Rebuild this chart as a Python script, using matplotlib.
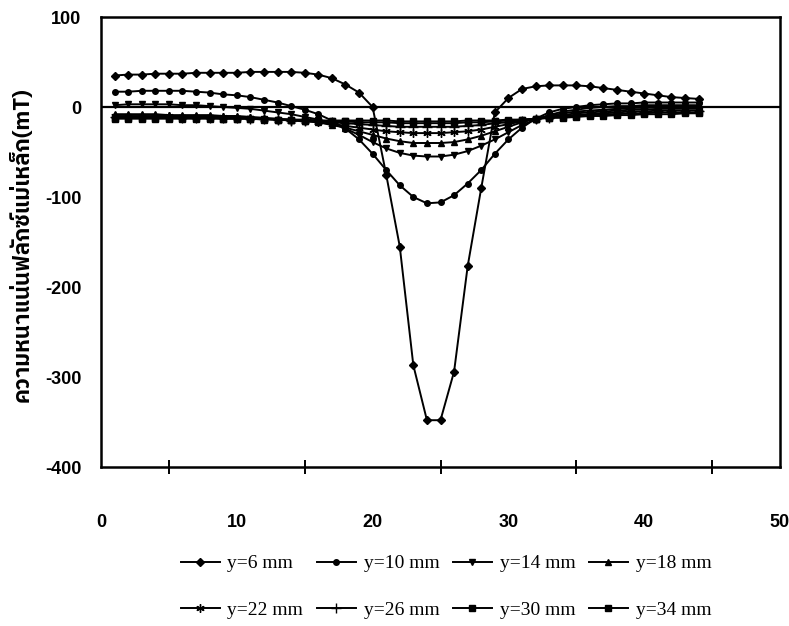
import matplotlib
matplotlib.use("Agg")
import matplotlib.pyplot as plt
from matplotlib import font_manager
from matplotlib.ft2font import FT2Font

# ---------------- data ----------------
x_pos = list(range(1, 45))

series_labels = ["y=6 mm", "y=10 mm", "y=14 mm", "y=18 mm",
                 "y=22 mm", "y=26 mm", "y=30 mm", "y=34 mm"]

y6 = [35, 36, 36, 37, 37, 37, 38, 38, 38, 38, 39, 39, 39, 39, 38, 36, 32, 25, 16, 0,
      -75, -155, -287, -348, -348, -294, -177, -90, -6, 10, 20, 23, 24, 24, 24, 23, 21,
      19, 17, 15, 13, 11, 10, 9]
y10 = [17, 17, 18, 18, 18, 18, 17, 16, 14, 13, 11, 8, 5, 1, -3, -8, -15, -24, -36, -52,
       -70, -87, -100, -107, -106, -98, -85, -70, -52, -36, -23, -13, -6, -2, 0, 2, 3,
       4, 4, 5, 5, 5, 5, 5]
y14 = [2, 3, 3, 3, 3, 2, 2, 1, 0, -1, -2, -4, -6, -8, -11, -14, -18, -24, -31, -39,
       -46, -51, -54, -55, -55, -53, -49, -43, -36, -28, -20, -14, -9, -5, -3, -1, 0,
       1, 1, 2, 2, 2, 2, 2]
y18 = [-8, -8, -8, -8, -9, -9, -9, -9, -10, -10, -11, -12, -13, -14, -15, -17, -20, -23,
       -27, -31, -35, -38, -40, -40, -40, -39, -36, -32, -27, -22, -17, -13, -10, -7,
       -5, -4, -3, -2, -1, -1, 0, 0, 0, 0]
y22 = [-10, -10, -10, -10, -10, -11, -11, -11, -11, -12, -12, -13, -14, -15, -16, -17,
       -19, -21, -23, -25, -27, -28, -29, -29, -29, -28, -27, -25, -22, -19, -16, -13,
       -11, -9, -7, -6, -5, -4, -3, -3, -2, -2, -2, -2]
y26 = [-11, -11, -11, -11, -11, -12, -12, -12, -12, -12, -13, -13, -14, -15, -15, -16,
       -17, -18, -19, -20, -21, -22, -22, -22, -22, -22, -21, -20, -18, -17, -15, -13,
       -12, -10, -9, -8, -7, -6, -5, -5, -4, -4, -4, -4]
y30 = [-12, -12, -12, -12, -12, -12, -12, -12, -13, -13, -13, -13, -14, -14, -15, -15,
       -16, -16, -17, -17, -17, -18, -18, -18, -18, -18, -17, -17, -16, -15, -14, -13,
       -12, -11, -10, -9, -8, -8, -7, -7, -6, -6, -6, -6]
y34 = [-13, -13, -13, -13, -13, -13, -13, -13, -13, -13, -13, -14, -14, -14, -14, -15,
       -15, -15, -15, -15, -15, -16, -16, -16, -16, -16, -15, -15, -15, -14, -14, -13,
       -12, -12, -11, -10, -10, -9, -9, -8, -8, -8, -7, -7]

x_tick_values = [0, 10, 20, 30, 40, 50]
y_tick_values = [100, 0, -100, -200, -300, -400]
y_axis_title = "ความหนาแน่นฟลักซ์แม่เหล็ก(mT)"

# ---------------- fonts ----------------
def find_thai_font():
    cands = []
    for f in font_manager.fontManager.ttflist:
        try:
            cm = FT2Font(f.fname).get_charmap()
        except Exception:
            continue
        if 0x0E04 in cm and 0x0E2B in cm:
            cands.append(f)
    if not cands:
        return None
    cands.sort(key=lambda f: (0 if "Thai" in f.name else 1, 0 if f.weight in (700, "bold") else 1))
    return cands[0].name

thai_font = find_thai_font()
label_family = [thai_font, "DejaVu Sans"] if thai_font else ["DejaVu Sans"]

plt.rcParams["font.family"] = ["Liberation Sans", "DejaVu Sans"]

series_data = [y6, y10, y14, y18, y22, y26, y30, y34]
markers = ["D", "o", "v", "^", (6, 2, 0), "+", "s", "s"]
msizes = [4, 4, 5, 5, 6, 7, 4, 4]

fig = plt.figure(figsize=(7.89, 6.26), dpi=100)
ax = fig.add_axes([101 / 789, 1 - 467 / 626, (780 - 101) / 789, (467 - 17) / 626])

handles = []
for data, lab, m, ms in zip(series_data, series_labels, markers, msizes):
    h, = ax.plot(x_pos, data, color="black", lw=1.4, marker=m, markersize=ms,
                 markeredgewidth=1.0, markerfacecolor="black", markeredgecolor="black",
                 label=lab)
    handles.append(h)

ax.axhline(0, color="black", lw=1.6, zorder=1)

ax.set_xlim(0, 50)
ax.set_ylim(-400, 100)
for s in ax.spines.values():
    s.set_linewidth(1.8)
    s.set_color("black")

ax.set_xticks(x_tick_values)
ax.set_xticklabels([str(v) for v in x_tick_values], fontsize=13, fontweight="bold")
ax.set_xticks(list(range(5, 50, 5)), minor=True)
ax.tick_params(axis="x", which="major", length=0, pad=34)
ax.tick_params(axis="x", which="minor", direction="inout", length=10, width=1.4)

ax.set_yticks(y_tick_values)
ax.set_yticklabels([str(v) for v in y_tick_values], fontsize=13, fontweight="bold")
ax.tick_params(axis="y", which="major", length=0, pad=14)

fig.text(21 / 789, 1 - 245 / 626, y_axis_title, rotation=90, ha="center", va="center",
         fontsize=16, fontweight="bold", family=label_family)

order = [0, 4, 1, 5, 2, 6, 3, 7]
leg = fig.legend([handles[i] for i in order], [series_labels[i] for i in order],
                 loc="center", bbox_to_anchor=(446 / 789, 1 - 587 / 626), ncol=4,
                 frameon=False, handlelength=2.0, handletextpad=0.4,
                 columnspacing=0.7, labelspacing=1.5,
                 prop={"family": ["Liberation Serif", "DejaVu Serif"], "size": 14})

fig.savefig("out.png", dpi=100)
